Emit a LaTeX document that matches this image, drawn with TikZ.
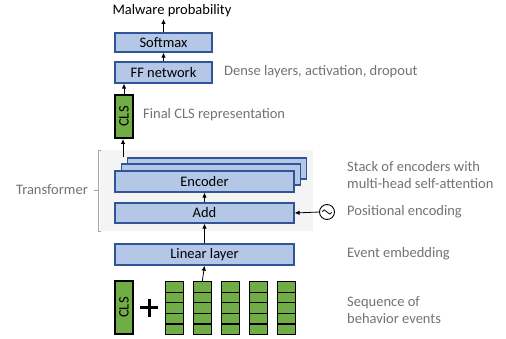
\documentclass[tikz,border=0pt]{standalone}
\usepackage{fontspec}
\setmainfont{Carlito}
\usetikzlibrary{arrows.meta}
\definecolor{bfill}{HTML}{B4C7E7}
\definecolor{bdraw}{HTML}{2F5597}
\definecolor{gfill}{HTML}{70AD47}
\definecolor{gtext}{HTML}{767171}
\definecolor{bgray}{HTML}{F4F4F4}
\definecolor{brk}{HTML}{A6A6A6}
\tikzset{
  txt/.style={font=\fontsize{14.5}{17.5}\selectfont},
  blk/.style={draw=bdraw, fill=bfill, line width=1.2pt, inner sep=0pt, txt},
  grn/.style={draw=black, fill=gfill, line width=1.2pt, inner sep=0pt},
  note/.style={anchor=west, text=gtext, txt, inner sep=0pt, align=left},
  arr/.style={-{Latex[length=5pt,width=4.5pt]}, line width=0.8pt},
}
\begin{document}
\begin{tikzpicture}[x=1pt,y=-1pt]
\useasboundingbox (0,0) rectangle (506,339);
% gray background
\fill[bgray] (100,150) rectangle (313,231);
% bracket
\draw[brk, line width=0.8pt] (101,150) -- (98,150) -- (98,231) -- (101,231);
\draw[brk, line width=0.8pt] (98,190) -- (94,190);
\node[note, anchor=east] (tr) at (88,190) {Transformer};
% boxes
\node[blk, minimum width=97pt, minimum height=19pt] (soft) at (163.5,42.5) {Softmax};
\node[blk, minimum width=97pt, minimum height=21pt] (ff) at (163.5,72.5) {FF network};
\node[grn, minimum width=18pt, minimum height=43pt] (clst) at (124,116.5) {};
\node[rotate=90, txt] at (clst.center) {CLS};
\node[blk, minimum width=179pt, minimum height=21pt] (enc3) at (217,168.5) {};
\node[blk, minimum width=179pt, minimum height=21pt] (enc2) at (211,174.5) {};
\node[blk, minimum width=179pt, minimum height=21pt] (enc) at (204.5,181.5) {Encoder};
\node[blk, minimum width=179pt, minimum height=20pt] (add) at (204.5,213) {Add};
\node[blk, minimum width=179pt, minimum height=21pt] (lin) at (204.5,254.5) {Linear layer};
\draw[line width=0.9pt] (327,212) circle (7.5);
\coordinate (pe) at (319.5,212);
\draw[line width=0.8pt] (322.5,212) .. controls (324.5,205) and (329.5,219) .. (331.5,212);
% arrows
\node[txt, inner sep=0pt] (mp) at (172,11) {Malware probability};
\draw[arr] (soft.north) -- (soft.north |- 0,19);
\draw[arr] (ff.north) -- (soft.south);
\draw[arr] (clst.north) -- (clst.north |- ff.south);
\draw[arr] (123,157) -- (123,139);
\draw[arr] (add.north) -- (enc.south);
\draw[arr] (lin.north) -- (add.south);
\draw[arr] (pe) -- (add.east);
% input sequence
\node[grn, minimum width=18pt, minimum height=53pt] (clsb) at (124,307.5) {};
\node[rotate=90, txt] at (clsb.center) {CLS};
\draw[line width=3pt] (140,307.5) -- (158,307.5) (149,298.5) -- (149,316.5);
\foreach \i in {0,...,4}{
  \foreach \j in {0,...,4}{
    \node[grn, minimum width=18.5pt, minimum height=10.6pt, anchor=north west] (e\i\j) at ({164.5+28*\i},{281+10.6*\j}) {};
  }
}
\draw[arr] (e10.north) -- (lin.south);
% notes
\node[note] (n1) at (224,72) {Dense layers, activation, dropout};
\node[note] (n2) at (143,115) {Final CLS representation};
\node[note] (n3) at (347,175) {Stack of encoders with\\multi-head self-attention};
\node[note] (n4) at (347,212) {Positional encoding};
\node[note] (n5) at (347,254) {Event embedding};
\node[note] (n6) at (347,310) {Sequence of\\behavior events};
\end{tikzpicture}
\end{document}
